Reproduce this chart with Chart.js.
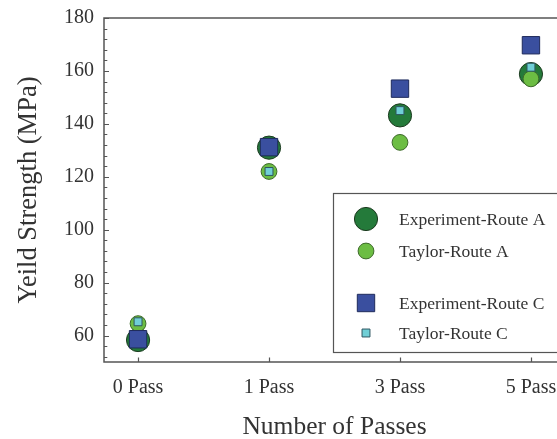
<!DOCTYPE html>
<html>
<head>
<meta charset="utf-8">
<script src="https://cdn.jsdelivr.net/npm/chart.js@4/dist/chart.umd.min.js"></script>
<style>
  html, body { margin: 0; padding: 0; background: #fff; overflow: hidden; }
  canvas { display: block; }
</style>
</head>
<body>
<canvas id="c" width="570" height="439"></canvas>
<script>
// Categories and measured / modelled yield strength (MPa)
const passLabels = ['0 Pass', '1 Pass', '3 Pass', '5 Pass'];
const experimentRouteA = [58.3, 131, 143.2, 158.8];
const taylorRouteA = [64.5, 122, 133, 157];
const experimentRouteC = [58.6, 131.2, 153.3, 169.7];
const taylorRouteC = [65.2, 122, 145, 161.4];
const yTickValues = [60, 80, 100, 120, 140, 160, 180];
const seriesNames = ['Experiment-Route A', 'Taylor-Route A', 'Experiment-Route C', 'Taylor-Route C'];

const SERIF = "'Liberation Serif', 'Times New Roman', serif";
const TEXT = '#333333';
const AXIS = '#555555';

const toPoints = arr => arr.map((v, i) => ({ x: i, y: v }));

const styles = [
  { pointStyle: 'circle', radius: 11.6, bg: '#247a3a', border: '#1c3a1f' },
  { pointStyle: 'circle', radius: 7.9,  bg: '#6cbd43', border: '#3d6a2a' },
  { pointStyle: 'rect',   radius: 12.3, bg: '#3a4f9f', border: '#1f2b5c' },
  { pointStyle: 'rect',   radius: 5.6,  bg: '#70cfd6', border: '#2e5662' }
];
const seriesValues = [experimentRouteA, taylorRouteA, experimentRouteC, taylorRouteC];

const datasets = seriesValues.map((vals, k) => ({
  label: seriesNames[k],
  data: toPoints(vals),
  pointStyle: styles[k].pointStyle,
  pointRadius: styles[k].radius,
  pointHoverRadius: styles[k].radius,
  backgroundColor: styles[k].bg,
  borderColor: styles[k].border,
  pointBorderWidth: 1,
  borderWidth: 1,
  showLine: false,
  order: 4 - k
}));

// Frame, inward ticks and boxed legend
const framePlugin = {
  id: 'frame',
  afterDraw(chart) {
    const { ctx, chartArea: a, scales } = chart;
    const y = scales.y, x = scales.x;
    ctx.save();
    ctx.strokeStyle = AXIS;
    ctx.lineWidth = 1.5;
    ctx.strokeRect(a.left, a.top, a.right - a.left, a.bottom - a.top);

    ctx.lineWidth = 1.2;
    ctx.beginPath();
    for (let v = 52; v <= 180; v += 4) {
      const py = Math.round(y.getPixelForValue(v)) + 0.5;
      const len = v % 20 === 0 ? 5 : 3.3;
      ctx.moveTo(a.left, py);
      ctx.lineTo(a.left + len, py);
    }
    passLabels.forEach((_, i) => {
      const px = Math.round(x.getPixelForValue(i)) + 0.5;
      ctx.moveTo(px, a.bottom);
      ctx.lineTo(px, a.bottom - 4.5);
    });
    ctx.stroke();

    // legend box
    const bx = 333, by = 193, bw = 300, bh = 159;
    ctx.lineWidth = 1.2;
    ctx.strokeStyle = AXIS;
    ctx.fillStyle = '#ffffff';
    ctx.fillRect(bx, by, bw, bh);
    ctx.strokeRect(bx + 0.5, by + 0.5, bw, bh);

    const rowY = [219, 251, 303, 333];
    ctx.font = '17.5px ' + SERIF;
    ctx.textBaseline = 'middle';
    chart.data.datasets.forEach((ds, k) => {
      const cx = 366, cy = rowY[k];
      const r = ds.pointRadius;
      ctx.fillStyle = ds.backgroundColor;
      ctx.strokeStyle = ds.borderColor;
      ctx.lineWidth = 1;
      ctx.beginPath();
      if (ds.pointStyle === 'circle') {
        ctx.arc(cx, cy, r, 0, Math.PI * 2);
      } else {
        const h = r * Math.SQRT1_2;
        ctx.rect(cx - h, cy - h, 2 * h, 2 * h);
      }
      ctx.fill();
      ctx.stroke();
      ctx.fillStyle = TEXT;
      ctx.fillText(ds.label, 399, cy + 1);
    });
    ctx.restore();
  }
};

new Chart(document.getElementById('c'), {
  type: 'scatter',
  data: { datasets },
  options: {
    responsive: false,
    animation: false,
    events: [],
    layout: { autoPadding: false, padding: { top: 18, right: 5, left: 0, bottom: 0 } },
    plugins: { legend: { display: false }, tooltip: { enabled: false } },
    scales: {
      x: {
        type: 'linear',
        min: -0.26,
        max: 3.26,
        grid: { display: false, drawTicks: false },
        border: { display: false },
        afterBuildTicks: s => { s.ticks = passLabels.map((_, i) => ({ value: i })); },
        afterFit: s => { s.height = 77; s.paddingLeft = 0; s.paddingRight = 0; },
        ticks: {
          padding: 14,
          color: TEXT,
          font: { family: SERIF, size: 20 },
          callback: v => passLabels[v] ?? ''
        },
        title: {
          display: true,
          text: 'Number of Passes',
          color: TEXT,
          font: { family: SERIF, size: 25.5 },
          padding: { top: 0, bottom: -4 }
        }
      },
      y: {
        min: 50,
        max: 180,
        grid: { display: false, drawTicks: false },
        border: { display: false },
        afterBuildTicks: s => { s.ticks = yTickValues.map(v => ({ value: v })); },
        afterFit: s => { s.width = 104; s.paddingTop = 0; s.paddingBottom = 0; },
        ticks: {
          padding: 10,
          color: TEXT,
          font: { family: SERIF, size: 20 }
        },
        title: {
          display: true,
          text: 'Yeild Strength (MPa)',
          color: TEXT,
          font: { family: SERIF, size: 26.5 },
          padding: { top: 13, bottom: 0 }
        }
      }
    }
  },
  plugins: [framePlugin]
});
</script>
</body>
</html>
